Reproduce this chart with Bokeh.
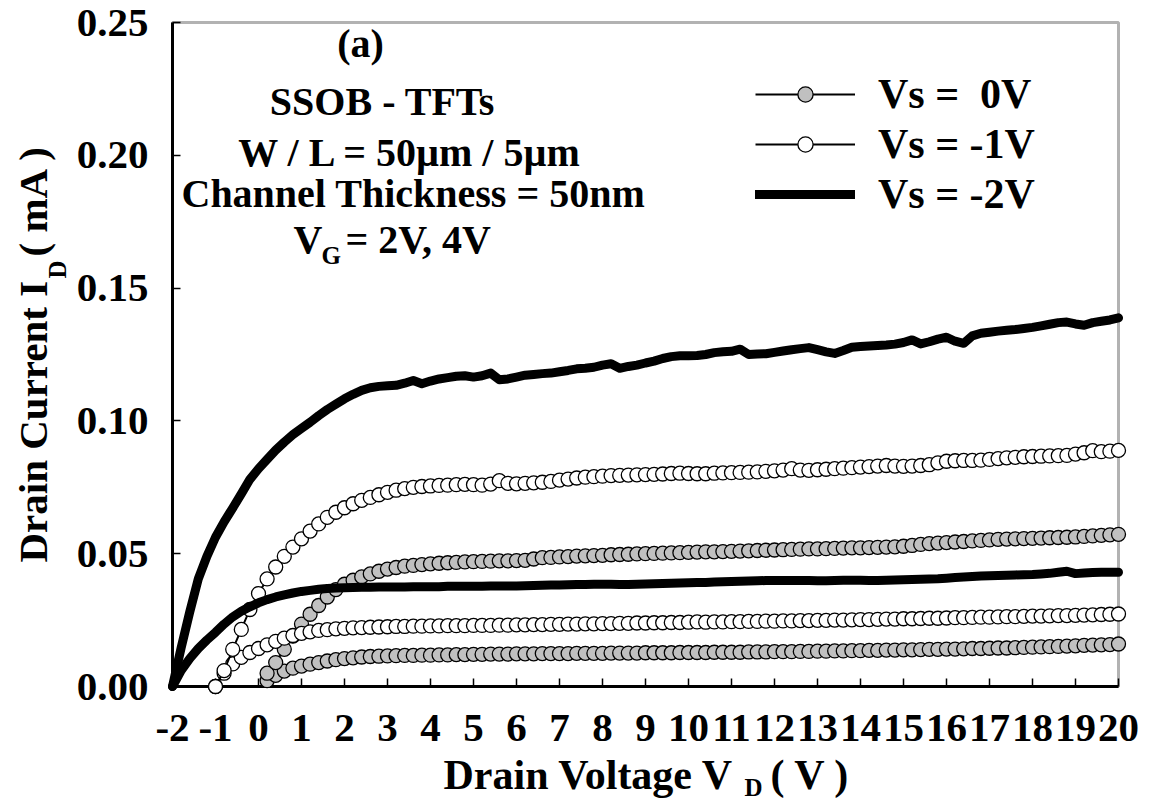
from math import pi

from bokeh.embed import file_html
from bokeh.models import (BoxAnnotation, ColumnDataSource, CustomJSTickFormatter,
                          FixedTicker, Label, Legend, LegendItem, Range1d)
from bokeh.plotting import figure
from bokeh.resources import INLINE

# ---------------------------------------------------------------- data
# drain-voltage sweep (V), 0.2 V steps
VD = [-2.0, -1.8, -1.6, -1.4, -1.2, -1.0, -0.8, -0.6, -0.4, -0.2,
      0.0, 0.2, 0.4, 0.6, 0.8, 1.0, 1.2, 1.4, 1.6, 1.8,
      2.0, 2.2, 2.4, 2.6, 2.8, 3.0, 3.2, 3.4, 3.6, 3.8,
      4.0, 4.2, 4.4, 4.6, 4.8, 5.0, 5.2, 5.4, 5.6, 5.8,
      6.0, 6.2, 6.4, 6.6, 6.8, 7.0, 7.2, 7.4, 7.6, 7.8,
      8.0, 8.2, 8.4, 8.6, 8.8, 9.0, 9.2, 9.4, 9.6, 9.8,
      10.0, 10.2, 10.4, 10.6, 10.8, 11.0, 11.2, 11.4, 11.6, 11.8,
      12.0, 12.2, 12.4, 12.6, 12.8, 13.0, 13.2, 13.4, 13.6, 13.8,
      14.0, 14.2, 14.4, 14.6, 14.8, 15.0, 15.2, 15.4, 15.6, 15.8,
      16.0, 16.2, 16.4, 16.6, 16.8, 17.0, 17.2, 17.4, 17.6, 17.8,
      18.0, 18.2, 18.4, 18.6, 18.8, 19.0, 19.2, 19.4, 19.6, 19.8,
      20.0]

# each source bias starts its sweep at a different drain voltage
VD_VS0 = VD[11:]   # 0.2 V .. 20 V
VD_VS1 = VD[5:]    # -1 V .. 20 V
VD_VS2 = VD[0:]    # -2 V .. 20 V

# drain current (mA)
ID_VS0_VG2 = [
    0.0022, 0.0042, 0.0058, 0.0069, 0.0077,
    0.0084, 0.0090, 0.0096, 0.0101, 0.0105,
    0.0108, 0.0111, 0.0113, 0.0114, 0.0115,
    0.0116, 0.0117, 0.0117, 0.0118, 0.0118,
    0.0119, 0.0119, 0.0120, 0.0120, 0.0121,
    0.0121, 0.0122, 0.0122, 0.0122, 0.0123,
    0.0123, 0.0123, 0.0124, 0.0124, 0.0124,
    0.0124, 0.0125, 0.0125, 0.0125, 0.0125,
    0.0126, 0.0126, 0.0126, 0.0126, 0.0127,
    0.0127, 0.0127, 0.0127, 0.0128, 0.0128,
    0.0128, 0.0128, 0.0129, 0.0129, 0.0129,
    0.0129, 0.0130, 0.0130, 0.0130, 0.0131,
    0.0131, 0.0131, 0.0132, 0.0132, 0.0133,
    0.0133, 0.0134, 0.0134, 0.0135, 0.0135,
    0.0136, 0.0136, 0.0137, 0.0137, 0.0138,
    0.0138, 0.0139, 0.0140, 0.0140, 0.0141,
    0.0141, 0.0142, 0.0143, 0.0143, 0.0144,
    0.0145, 0.0145, 0.0146, 0.0147, 0.0148,
    0.0149, 0.0150, 0.0151, 0.0152, 0.0153,
    0.0155, 0.0156, 0.0157, 0.0158, 0.0160]

ID_VS0_VG4 = [
    0.0050, 0.0090, 0.0140, 0.0190, 0.0235,
    0.0272, 0.0305, 0.0337, 0.0365, 0.0385,
    0.0400, 0.0413, 0.0424, 0.0434, 0.0442,
    0.0448, 0.0453, 0.0456, 0.0459, 0.0462,
    0.0464, 0.0466, 0.0467, 0.0469, 0.0470,
    0.0471, 0.0472, 0.0473, 0.0473, 0.0474,
    0.0475, 0.0480, 0.0485, 0.0486, 0.0488,
    0.0489, 0.0491, 0.0492, 0.0493, 0.0494,
    0.0496, 0.0497, 0.0498, 0.0499, 0.0500,
    0.0501, 0.0502, 0.0503, 0.0504, 0.0505,
    0.0506, 0.0507, 0.0507, 0.0508, 0.0509,
    0.0510, 0.0511, 0.0512, 0.0513, 0.0514,
    0.0515, 0.0516, 0.0517, 0.0518, 0.0518,
    0.0519, 0.0520, 0.0521, 0.0522, 0.0522,
    0.0523, 0.0524, 0.0525, 0.0526, 0.0528,
    0.0531, 0.0535, 0.0538, 0.0540, 0.0542,
    0.0544, 0.0546, 0.0548, 0.0550, 0.0552,
    0.0554, 0.0555, 0.0556, 0.0557, 0.0558,
    0.0559, 0.0560, 0.0561, 0.0562, 0.0563,
    0.0565, 0.0567, 0.0569, 0.0571, 0.0573]

ID_VS1_VG2 = [
    0.0000,
    0.0050, 0.0085, 0.0110, 0.0128, 0.0143,
    0.0157, 0.0170, 0.0182, 0.0192, 0.0200,
    0.0206, 0.0211, 0.0214, 0.0217, 0.0219,
    0.0221, 0.0222, 0.0223, 0.0224, 0.0225,
    0.0226, 0.0226, 0.0227, 0.0227, 0.0228,
    0.0228, 0.0229, 0.0229, 0.0229, 0.0230,
    0.0230, 0.0230, 0.0231, 0.0231, 0.0232,
    0.0232, 0.0233, 0.0233, 0.0234, 0.0234,
    0.0235, 0.0235, 0.0236, 0.0236, 0.0237,
    0.0237, 0.0238, 0.0238, 0.0239, 0.0239,
    0.0240, 0.0240, 0.0241, 0.0241, 0.0242,
    0.0243, 0.0242, 0.0243, 0.0243, 0.0244,
    0.0244, 0.0245, 0.0245, 0.0246, 0.0246,
    0.0247, 0.0247, 0.0248, 0.0248, 0.0249,
    0.0249, 0.0250, 0.0250, 0.0251, 0.0252,
    0.0252, 0.0253, 0.0254, 0.0254, 0.0255,
    0.0255, 0.0256, 0.0257, 0.0257, 0.0258,
    0.0259, 0.0259, 0.0260, 0.0261, 0.0261,
    0.0262, 0.0263, 0.0263, 0.0264, 0.0265,
    0.0265, 0.0266, 0.0267, 0.0267, 0.0268,
    0.0269, 0.0270, 0.0271, 0.0272, 0.0273]

ID_VS1_VG4 = [
    0.0000,
    0.0060, 0.0140, 0.0215, 0.0290, 0.0350,
    0.0405, 0.0450, 0.0490, 0.0525, 0.0556,
    0.0585, 0.0612, 0.0637, 0.0656, 0.0673,
    0.0688, 0.0701, 0.0712, 0.0722, 0.0731,
    0.0739, 0.0745, 0.0750, 0.0753, 0.0755,
    0.0757, 0.0758, 0.0760, 0.0761, 0.0760,
    0.0758, 0.0762, 0.0775, 0.0765, 0.0763,
    0.0765, 0.0767, 0.0769, 0.0772, 0.0777,
    0.0781, 0.0785, 0.0788, 0.0790, 0.0792,
    0.0794, 0.0795, 0.0796, 0.0797, 0.0798,
    0.0799, 0.0800, 0.0802, 0.0803, 0.0802,
    0.0801, 0.0801, 0.0803, 0.0804, 0.0805,
    0.0806, 0.0807, 0.0808, 0.0810, 0.0812,
    0.0815, 0.0820, 0.0815, 0.0814, 0.0816,
    0.0818, 0.0820, 0.0822, 0.0824, 0.0826,
    0.0828, 0.0830, 0.0832, 0.0830, 0.0829,
    0.0830, 0.0832, 0.0835, 0.0842, 0.0848,
    0.0850, 0.0851, 0.0851, 0.0852, 0.0855,
    0.0858, 0.0861, 0.0863, 0.0865, 0.0866,
    0.0867, 0.0868, 0.0869, 0.0870, 0.0875,
    0.0880, 0.0888, 0.0884, 0.0886, 0.0889]

ID_VS2_VG2 = [
    0.0000,
    0.0060, 0.0105, 0.0143, 0.0175, 0.0204,
    0.0235, 0.0262, 0.0283, 0.0300, 0.0315,
    0.0327, 0.0337, 0.0345, 0.0352, 0.0358,
    0.0362, 0.0366, 0.0369, 0.0371, 0.0372,
    0.0373, 0.0374, 0.0374, 0.0375, 0.0375,
    0.0375, 0.0375, 0.0376, 0.0376, 0.0376,
    0.0376, 0.0377, 0.0377, 0.0377, 0.0377,
    0.0377, 0.0378, 0.0378, 0.0378, 0.0378,
    0.0379, 0.0380, 0.0381, 0.0382, 0.0382,
    0.0383, 0.0384, 0.0384, 0.0385, 0.0385,
    0.0385, 0.0384, 0.0384, 0.0385, 0.0386,
    0.0387, 0.0388, 0.0389, 0.0390, 0.0391,
    0.0392, 0.0392, 0.0393, 0.0394, 0.0395,
    0.0396, 0.0397, 0.0398, 0.0399, 0.0399,
    0.0399, 0.0399, 0.0399, 0.0399, 0.0398,
    0.0398, 0.0399, 0.0400, 0.0400, 0.0400,
    0.0399, 0.0399, 0.0400, 0.0401, 0.0402,
    0.0403, 0.0404, 0.0405, 0.0406, 0.0408,
    0.0410, 0.0412, 0.0414, 0.0416, 0.0417,
    0.0418, 0.0419, 0.0420, 0.0421, 0.0422,
    0.0424, 0.0426, 0.0430, 0.0434, 0.0425,
    0.0427, 0.0429, 0.0430, 0.0430, 0.0430]

ID_VS2_VG4 = [
    0.0000,
    0.0145, 0.0280, 0.0405, 0.0490, 0.0562,
    0.0620, 0.0672, 0.0725, 0.0780, 0.0820,
    0.0855, 0.0890, 0.0920, 0.0948, 0.0972,
    0.0995, 0.1020, 0.1043, 0.1063, 0.1083,
    0.1100, 0.1115, 0.1125, 0.1130, 0.1132,
    0.1134, 0.1142, 0.1152, 0.1140, 0.1150,
    0.1158, 0.1163, 0.1168, 0.1170, 0.1165,
    0.1170, 0.1180, 0.1155, 0.1158, 0.1165,
    0.1172, 0.1175, 0.1178, 0.1180, 0.1185,
    0.1190, 0.1196, 0.1198, 0.1202, 0.1210,
    0.1215, 0.1198, 0.1205, 0.1210, 0.1218,
    0.1225, 0.1235, 0.1242, 0.1245, 0.1245,
    0.1246, 0.1250, 0.1257, 0.1260, 0.1262,
    0.1270, 0.1250, 0.1252, 0.1253, 0.1258,
    0.1263, 0.1268, 0.1272, 0.1276, 0.1268,
    0.1260, 0.1254, 0.1265, 0.1277, 0.1280,
    0.1282, 0.1284, 0.1286, 0.1289, 0.1295,
    0.1305, 0.1290, 0.1298, 0.1308, 0.1315,
    0.1300, 0.1292, 0.1320, 0.1330, 0.1334,
    0.1338, 0.1341, 0.1344, 0.1348, 0.1352,
    0.1358, 0.1364, 0.1370, 0.1372, 0.1365,
    0.1360, 0.1370, 0.1375, 0.1380, 0.1388]

X_TICKS = list(range(-2, 21))
Y_TICKS = [0.0, 0.05, 0.10, 0.15, 0.20, 0.25]
X_LIMITS = (-2, 20)
Y_LIMITS = (0, 0.25)

LEGEND_LABELS = ["Vs = \u00a00V", "Vs = -1V", "Vs = -2V"]

assert len(ID_VS0_VG2) == len(ID_VS0_VG4) == len(VD_VS0)
assert len(ID_VS1_VG2) == len(ID_VS1_VG4) == len(VD_VS1)
assert len(ID_VS2_VG2) == len(ID_VS2_VG4) == len(VD_VS2)

# ---------------------------------------------------------------- layout
W, H = 1150, 803
# pixel box of the axes inside the canvas
BOX_L, BOX_R, BOX_T, BOX_B = 172, 1118, 22, 686

# the frame fills the whole canvas; ranges are widened so that the axes box
# lands on BOX_*, and the axes are pinned to the box edges
xs = (X_LIMITS[1] - X_LIMITS[0]) / (BOX_R - BOX_L)
ys = (Y_LIMITS[1] - Y_LIMITS[0]) / (BOX_B - BOX_T)
x_range = Range1d(X_LIMITS[0] - BOX_L * xs, X_LIMITS[1] + (W - BOX_R) * xs)
y_range = Range1d(Y_LIMITS[0] - (H - BOX_B) * ys, Y_LIMITS[1] + BOX_T * ys)

FONT = "Liberation Serif"

p = figure(width=W, height=H, output_backend="svg", toolbar_location=None,
           x_range=x_range, y_range=y_range,
           min_border=0, min_border_left=0, min_border_right=0,
           min_border_top=0, min_border_bottom=0)
p.background_fill_color = "white"
p.border_fill_color = "white"
p.outline_line_color = None
p.grid.visible = False

for ax in (p.xaxis[0], p.yaxis[0]):
    ax.level = "underlay"
    ax.axis_line_width = 3
    ax.axis_line_color = "black"
    ax.major_tick_in = 8
    ax.major_tick_out = 0
    ax.major_tick_line_width = 1.5
    ax.minor_tick_line_color = None
    ax.major_label_text_font = FONT
    ax.major_label_text_font_style = "bold"
    ax.major_label_text_font_size = "41px"
    ax.major_label_text_color = "black"

p.xaxis.fixed_location = Y_LIMITS[0]
p.xaxis.bounds = X_LIMITS
p.xaxis.ticker = FixedTicker(ticks=X_TICKS)
p.xaxis.formatter = CustomJSTickFormatter(code="return String(tick);")
p.xaxis.major_label_standoff = 28

p.yaxis.fixed_location = X_LIMITS[0]
p.yaxis.bounds = Y_LIMITS
p.yaxis.ticker = FixedTicker(ticks=Y_TICKS)
p.yaxis.formatter = CustomJSTickFormatter(code="return tick.toFixed(2);")
p.yaxis.major_label_standoff = 24

# closing top and right edges of the axes box
p.add_layout(BoxAnnotation(left=X_LIMITS[0], right=X_LIMITS[1],
                           bottom=Y_LIMITS[0], top=Y_LIMITS[1],
                           fill_alpha=0, line_color="black", line_width=3,
                           level="underlay"))

# ---------------------------------------------------------------- curves
GRAY = "#c0c0c0"
MARK = 14


def marker_curve(x, y, fill):
    src = ColumnDataSource(data=dict(x=x, y=y))
    ln = p.line("x", "y", source=src, line_color="black", line_width=2)
    sc = p.scatter("x", "y", source=src, marker="circle", size=MARK,
                   fill_color=fill, line_color="black", line_width=1.3)
    return ln, sc


def thick_curve(x, y):
    src = ColumnDataSource(data=dict(x=x, y=y))
    return p.line("x", "y", source=src, line_color="black", line_width=9,
                  line_join="round", line_cap="round")


l0a, s0a = marker_curve(VD_VS0, ID_VS0_VG2, GRAY)
l0b, s0b = marker_curve(VD_VS0, ID_VS0_VG4, GRAY)
l1a, s1a = marker_curve(VD_VS1, ID_VS1_VG2, "white")
l1b, s1b = marker_curve(VD_VS1, ID_VS1_VG4, "white")
t2a = thick_curve(VD_VS2, ID_VS2_VG2)
t2b = thick_curve(VD_VS2, ID_VS2_VG4)

legend = Legend(items=[
    LegendItem(label=LEGEND_LABELS[0], renderers=[l0b, s0b]),
    LegendItem(label=LEGEND_LABELS[1], renderers=[l1b, s1b]),
    LegendItem(label=LEGEND_LABELS[2], renderers=[t2b]),
], location=(755, 585))
legend.label_text_font = FONT
legend.label_text_font_style = "bold"
legend.label_text_font_size = "42px"
legend.label_text_color = "black"
legend.glyph_width = 100
legend.glyph_height = 38
legend.label_standoff = 23
legend.spacing = 2
legend.padding = 0
legend.margin = 0
legend.border_line_alpha = 0
legend.background_fill_alpha = 0
p.add_layout(legend)


# ---------------------------------------------------------------- text
def put(text, x, y, size=40, align="left", angle=0.0):
    """Bold serif label; x from the left edge, y from the bottom edge (px)."""
    p.add_layout(Label(x=x, y=y, x_units="screen", y_units="screen",
                       text=text, text_font=FONT, text_font_style="bold",
                       text_font_size=f"{size}px", text_color="black",
                       text_align=align, text_baseline="alphabetic",
                       angle=angle))


# annotation block
put("(a)", 360, 760, align="center")
put("SSOB - TFTs", 382, 702, align="center")
put("W / L = 50\u00b5m / 5\u00b5m", 410, 651, align="center")
put("Channel Thickness = 50nm", 413, 610, align="center")
put("V", 293, 564)
put("G", 321, 548, size=25)
put("= 2V, 4V", 345, 564)

# x axis title
put("Drain Voltage V", 443, 29, size=42)
put("D", 744, 16, size=25)
put("( V )", 770, 29, size=42)

# y axis title (rotated, reads bottom to top)
put("Drain Current I", 32, 241, size=41, angle=pi / 2)
put("D", 57, 525, size=25, angle=pi / 2)
put("( mA )", 32, 547, size=41, angle=pi / 2)

open("out.html", "w").write(file_html(p, INLINE))
